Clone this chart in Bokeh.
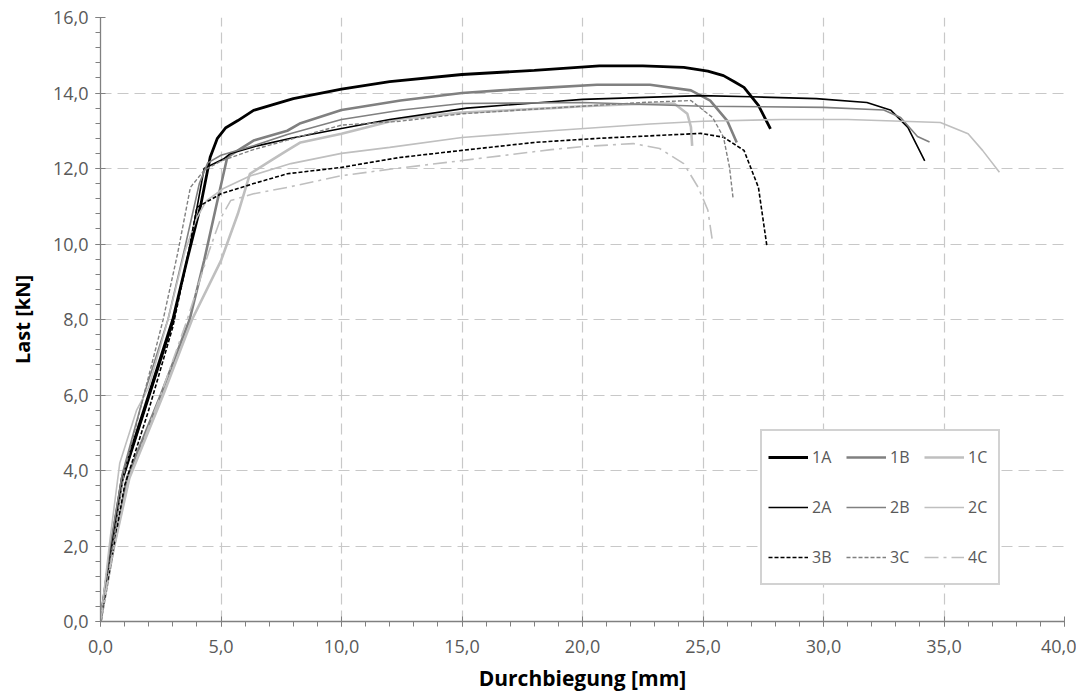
from bokeh.plotting import figure
from bokeh.models import FixedTicker, Legend, LegendItem, Range1d
from bokeh.embed import file_html
from bokeh.resources import INLINE

# ---- data ----
x_1A = [0, 0.4, 0.9, 2.0, 3.0, 3.6, 4.15, 4.55, 4.85, 5.2, 5.7, 6.35, 8.0, 10.0, 12.0, 15.0, 18.0, 20.7, 22.5, 24.2, 25.2, 25.85, 26.3, 26.7, 27.3, 27.8]
y_1A = [0, 1.8, 3.8, 6.0, 8.0, 9.6, 11.0, 12.3, 12.8, 13.08, 13.27, 13.54, 13.85, 14.1, 14.3, 14.49, 14.6, 14.72, 14.72, 14.68, 14.58, 14.46, 14.3, 14.15, 13.67, 13.05]

x_1B = [0, 0.5, 1.1, 2.5, 3.7, 4.3, 4.8, 5.26, 6.35, 7.75, 8.3, 10.0, 12.45, 15.0, 16.6, 18.7, 20.6, 22.8, 24.5, 25.3, 26.0, 26.4]
y_1B = [0, 1.8, 3.8, 6.0, 8.0, 9.56, 11.0, 12.3, 12.74, 13.0, 13.2, 13.55, 13.8, 14.0, 14.07, 14.15, 14.22, 14.22, 14.07, 13.8, 13.27, 12.69]

x_1C = [0, 0.5, 1.2, 2.6, 3.8, 5.0, 5.7, 6.2, 7.05, 7.75, 8.3, 10.0, 12.45, 15.0, 18.7, 20.0, 22.0, 23.8, 24.35, 24.5, 24.55]
y_1C = [0, 1.8, 3.8, 6.0, 8.0, 9.56, 10.8, 11.86, 12.2, 12.48, 12.69, 12.92, 13.32, 13.48, 13.6, 13.65, 13.7, 13.72, 13.45, 13.1, 12.6]

x_2A = [0, 0.4, 0.9, 2.0, 3.0, 3.7, 4.3, 5.1, 5.4, 6.5, 7.9, 10.0, 12.0, 15.2, 18.7, 20.0, 24.9, 27.0, 29.7, 31.8, 32.8, 33.5, 34.2]
y_2A = [0, 1.8, 3.7, 5.9, 7.9, 9.9, 12.0, 12.25, 12.4, 12.6, 12.8, 13.06, 13.3, 13.6, 13.77, 13.83, 13.93, 13.9, 13.85, 13.75, 13.54, 13.09, 12.2]

x_2B = [0, 0.4, 0.9, 1.8, 2.8, 3.5, 4.1, 4.45, 5.0, 6.35, 7.75, 10.0, 12.5, 15.0, 20.0, 25.0, 30.0, 32.5, 33.2, 33.9, 34.4]
y_2B = [0, 2.0, 3.9, 6.0, 8.0, 9.9, 11.6, 12.15, 12.35, 12.6, 12.9, 13.3, 13.55, 13.72, 13.75, 13.65, 13.62, 13.55, 13.35, 12.85, 12.7]

x_2C = [0, 0.4, 0.8, 1.5, 2.0, 2.8, 3.5, 4.0, 4.4, 5.1, 6.2, 7.9, 10.0, 12.0, 15.0, 18.7, 22.8, 25.0, 28.3, 31.0, 34.85, 36.0, 36.6, 37.3]
y_2C = [0, 2.2, 4.2, 5.6, 6.2, 8.0, 9.8, 10.7, 11.15, 11.47, 11.8, 12.13, 12.4, 12.56, 12.82, 13.0, 13.18, 13.25, 13.3, 13.3, 13.22, 12.92, 12.48, 11.9]

x_3B = [0, 0.5, 1.0, 2.0, 3.0, 3.6, 4.0, 5.0, 6.35, 7.75, 10.0, 12.4, 15.0, 18.0, 20.7, 24.9, 25.85, 26.7, 27.3, 27.65]
y_3B = [0, 1.8, 3.6, 5.6, 7.8, 9.6, 10.97, 11.33, 11.6, 11.86, 12.03, 12.29, 12.48, 12.69, 12.8, 12.93, 12.83, 12.48, 11.5, 9.95]

x_3C = [0, 0.5, 1.0, 1.8, 2.6, 3.2, 3.73, 4.3, 5.0, 6.35, 7.75, 10.0, 12.4, 15.0, 18.7, 20.0, 22.5, 24.5, 25.4, 25.85, 26.1, 26.25]
y_3C = [0, 2.0, 4.0, 6.0, 8.0, 9.75, 11.5, 11.95, 12.2, 12.5, 12.75, 13.15, 13.25, 13.45, 13.6, 13.65, 13.75, 13.8, 13.35, 12.83, 12.03, 11.2]

x_4C = [0, 0.5, 1.2, 2.5, 3.6, 4.5, 5.0, 5.4, 6.35, 7.75, 10.0, 12.0, 15.0, 18.7, 20.0, 22.1, 23.2, 24.2, 24.8, 25.2, 25.4]
y_4C = [0, 1.8, 3.8, 6.0, 8.0, 9.8, 10.7, 11.15, 11.33, 11.5, 11.81, 11.98, 12.21, 12.5, 12.58, 12.66, 12.53, 12.13, 11.5, 10.9, 10.04]

x_ticks = [0, 5, 10, 15, 20, 25, 30, 35, 40]
x_tick_labels = ["0,0", "5,0", "10,0", "15,0", "20,0", "25,0", "30,0", "35,0", "40,0"]
y_ticks = [0, 2, 4, 6, 8, 10, 12, 14, 16]
y_tick_labels = ["0,0", "2,0", "4,0", "6,0", "8,0", "10,0", "12,0", "14,0", "16,0"]
x_minor = [i * 1.0 for i in range(0, 41)]
y_minor = [i * 0.4 for i in range(0, 41)]

series = [
    ("1A", x_1A, y_1A, "#000000", 2.8, "solid"),
    ("1B", x_1B, y_1B, "#808080", 2.6, "solid"),
    ("1C", x_1C, y_1C, "#bfbfbf", 2.6, "solid"),
    ("2A", x_2A, y_2A, "#000000", 1.6, "solid"),
    ("2B", x_2B, y_2B, "#808080", 1.6, "solid"),
    ("2C", x_2C, y_2C, "#bfbfbf", 1.6, "solid"),
    ("3B", x_3B, y_3B, "#000000", 1.6, "4 2"),
    ("3C", x_3C, y_3C, "#808080", 1.4, "4 2"),
    ("4C", x_4C, y_4C, "#bfbfbf", 1.6, "14 5 3 5"),
]

FONT = "Open Sans"

p = figure(width=1076, height=695, output_backend="svg", toolbar_location=None,
           x_range=Range1d(0, 40), y_range=Range1d(0, 16),
           min_border_left=100, min_border_right=12, min_border_top=17, min_border_bottom=74)
p.outline_line_color = None
p.background_fill_color = "white"

for ax, ticks, minor, labels in ((p.xaxis[0], x_ticks, x_minor, x_tick_labels),
                                 (p.yaxis[0], y_ticks, y_minor, y_tick_labels)):
    ax.ticker = FixedTicker(ticks=ticks, minor_ticks=minor)
    ax.major_label_overrides = {t: l for t, l in zip(ticks, labels)}
    ax.axis_line_color = "#808080"
    ax.axis_line_width = 1.3
    ax.major_tick_line_color = "#808080"
    ax.minor_tick_line_color = "#808080"
    ax.major_tick_in = 5
    ax.major_tick_out = 5
    ax.minor_tick_in = 0
    ax.minor_tick_out = 5
    ax.major_label_text_font = FONT
    ax.major_label_text_font_size = "18px"
    ax.major_label_text_color = "#595959"
    ax.axis_label_text_font = FONT
    ax.axis_label_text_font_style = "bold"
    ax.axis_label_text_color = "#000000"

p.xaxis.axis_label = "Durchbiegung [mm]"
p.yaxis.axis_label = "Last [kN]"
p.xaxis.axis_label_text_font_size = "21px"
p.yaxis.axis_label_text_font_size = "20px"
p.xaxis.major_label_standoff = 13
p.yaxis.major_label_standoff = 7
p.xaxis.axis_label_standoff = 8
p.yaxis.axis_label_standoff = 14

for g, tk in ((p.xgrid[0], p.xaxis[0].ticker), (p.ygrid[0], p.yaxis[0].ticker)):
    g.ticker = tk
    g.grid_line_color = "#c8c8c8"
    g.grid_line_dash = "11 6"
    g.grid_line_width = 1.2

items = []
for name, xs, ys, col, w, dash in series:
    r = p.line(xs, ys, line_color=col, line_width=w, line_dash=dash)
    items.append(LegendItem(label=name, renderers=[r]))

leg = Legend(items=items, location=(660, 36), orientation="horizontal", ncols=3,
             glyph_width=40, glyph_height=20, label_standoff=4, label_width=24,
             label_height=40, spacing=10, padding=6, margin=0,
             label_text_font=FONT, label_text_font_size="16px", label_text_color="#595959",
             border_line_color="#a6a6a6", border_line_width=2, background_fill_color="white",
             background_fill_alpha=1.0)
p.add_layout(leg, "center")

open("out.html", "w").write(file_html(p, INLINE))
